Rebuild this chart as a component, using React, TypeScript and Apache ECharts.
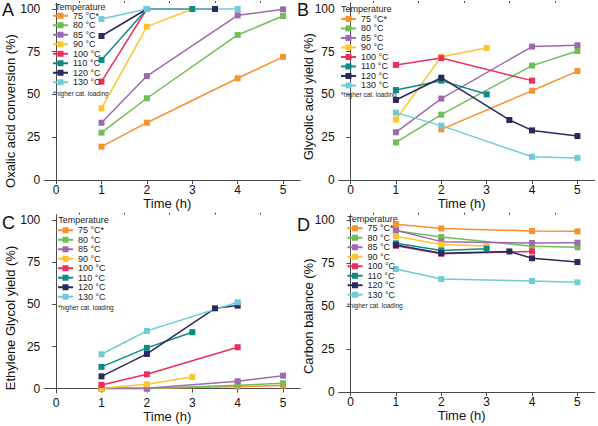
import React, { useEffect, useRef } from "react";
import * as echarts from "echarts";

const temps = ["75 °C*", "80 °C", "85 °C", "90 °C", "100 °C", "110 °C", "120 °C", "130 °C"];
const colors = ["#F7922F", "#6FBE57", "#9E6AAE", "#FCC52E", "#EC2E5C", "#0D8A84", "#29295E", "#72CAD9"];

const xTicks = [0, 1, 2, 3, 4, 5];
const xMinorTicks = [0.5, 1.5, 2.5, 3.5, 4.5];
const yTicks = [0, 25, 50, 75, 100];

type P = [number, number][];

// A: Oxalic acid conversion (%)
const oxalicConversion: P[] = [
  [[1, 19.5], [2, 33.5], [4, 59.5], [5, 72]],
  [[1, 27.7], [2, 47.8], [4, 84.8], [5, 95.9]],
  [[1, 33.5], [2, 60.8], [4, 96.3], [5, 99.8]],
  [[1, 41.9], [2, 89.7], [3, 100]],
  [[1, 57.5], [2, 100]],
  [[1, 70.2], [2, 100], [3, 100]],
  [[1, 84.2], [2, 100], [3.5, 100]],
  [[1, 94.2], [2, 100], [4, 100]],
];

// B: Glycolic acid yield (%)
const glycolicYield: P[] = [
  [[2, 29.6], [4, 52.2], [5, 63.7]],
  [[1, 22], [2, 38.2], [4, 66.9], [5, 75.4]],
  [[1, 27.9], [2, 47.6], [4, 78], [5, 78.8]],
  [[1, 35.3], [2, 72.1], [3, 77.2]],
  [[1, 67.3], [2, 71.3], [4, 58.1]],
  [[1, 52.6], [2, 58.1], [3, 50.1]],
  [[1, 46.8], [2, 59.8], [3.5, 35.1], [4, 29], [5, 25.7]],
  [[1, 39.4], [2, 31.8], [4, 13.6], [5, 12.9]],
];

// C: Ethylene Glycol yield (%)
const egYield: P[] = [
  [[1, 0], [2, 0], [4, 1.2], [5, 1.8]],
  [[1, 0], [2, 0], [4, 2], [5, 3.2]],
  [[1, 0.4], [2, 0.2], [4, 4.4], [5, 7.7]],
  [[1, 0.2], [2, 2.6], [3, 6.9]],
  [[1, 2.2], [2, 8.5], [4, 24.6]],
  [[1, 12.9], [2, 24.2], [3, 33.5]],
  [[1, 7.3], [2, 20.6], [3.5, 47.7], [4, 49.3]],
  [[1, 20.4], [2, 34.3], [4, 51.3]],
];

// D: Carbon balance (%)
const carbonBalance: P[] = [
  [[1, 97.7], [2, 95.3], [4, 93.8], [5, 93.6]],
  [[1, 94], [2, 90.3], [4, 84.9], [5, 84.3]],
  [[1, 94.2], [2, 87.6], [4, 86.8], [5, 87]],
  [[1, 90.7], [2, 86], [3, 85.1]],
  [[1, 85.2], [2, 80.6], [4, 81.9]],
  [[1, 86.6], [2, 82.5], [3, 83.5]],
  [[1, 85.6], [2, 80.8], [3.5, 81.9], [4, 77.9], [5, 75.7]],
  [[1, 71.7], [2, 65.8], [4, 64.7], [5, 63.9]],
];

const panels = [
  { letter: "A", title: "Oxalic acid conversion (%)", data: oxalicConversion },
  { letter: "B", title: "Glycolic acid yield (%)", data: glycolicYield },
  { letter: "C", title: "Ethylene Glycol yield (%)", data: egYield },
  { letter: "D", title: "Carbon balance (%)", data: carbonBalance },
];

const FONT = "'Liberation Sans', Arial, Helvetica, sans-serif";

// layout (pixels)
const layout = [
  { left: 44.3, top: 3, width: 256, height: 177, yMin: 0, yMax: 103.5,
    letter: [2, 1], yName: [10.7, 111], legendLeft: 52, legendTop: 11, tempTitle: [55, 6.7], note: [53, 93.3] },
  { left: 338.7, top: 3, width: 256, height: 177, yMin: 0, yMax: 103.5,
    letter: [297, 1], yName: [308.7, 96.7], legendLeft: 340, legendTop: 14.2, tempTitle: [341, 9], note: [341, 94.3] },
  { left: 44.3, top: 214.7, width: 256, height: 178.3, yMin: -2.6, yMax: 103.3,
    letter: [2, 214], yName: [10.7, 318], legendLeft: 57, legendTop: 225.5, tempTitle: [58.3, 220.3], note: [58, 307] },
  { left: 338.7, top: 214.7, width: 256, height: 177.3, yMin: 0, yMax: 103.3,
    letter: [297, 216], yName: [308.7, 316.3], legendLeft: 346.5, legendTop: 223.5, tempTitle: [347.3, 218.7], note: [347, 305] },
];

export default function App() {
  const ref = useRef<HTMLDivElement>(null);
  useEffect(() => {
    if (!ref.current) return;
    const chart = echarts.init(ref.current, null, { renderer: "svg" });

    const grid = layout.map((l) => ({ left: l.left, top: l.top, width: l.width, height: l.height, containLabel: false }));
    const axisLineColor = "#4a4a4a";

    const xAxis: any[] = [];
    const yAxis: any[] = [];
    layout.forEach((l, i) => {
      xAxis.push({
        type: "value", gridIndex: i, min: -0.26, max: 5.38,
        axisLine: { show: true, lineStyle: { color: axisLineColor, width: 1 } },
        axisTick: { show: true, length: 4, customValues: xTicks, lineStyle: { color: axisLineColor } },
        axisLabel: { customValues: xTicks, fontSize: 12, lineHeight: 12, color: "#111", margin: 4, fontFamily: FONT },
        splitLine: { show: false },
      });
      yAxis.push({
        type: "value", gridIndex: i, min: l.yMin, max: l.yMax,
        axisLine: { show: true, lineStyle: { color: axisLineColor, width: 1 } },
        axisTick: { show: true, length: 4, customValues: yTicks, lineStyle: { color: axisLineColor } },
        axisLabel: { customValues: yTicks, fontSize: 12, color: "#111", margin: 4, fontFamily: FONT },
        splitLine: { show: false },
      });
    });
    layout.forEach((l, i) => {
      xAxis.push({
        type: "value", gridIndex: i, min: -0.26, max: 5.38,
        axisLine: { show: false },
        axisTick: { show: true, length: 2, customValues: xMinorTicks, lineStyle: { color: axisLineColor } },
        axisLabel: { show: false },
        splitLine: { show: false },
      });
    });

    const series: any[] = [];
    panels.forEach((p, i) => {
      p.data.forEach((d, t) => {
        series.push({
          type: "line", name: temps[t], xAxisIndex: i, yAxisIndex: i, data: d,
          symbol: "rect", symbolSize: 6,
          lineStyle: { color: colors[t], width: 1.5 },
          itemStyle: { color: colors[t] },
          emphasis: { disabled: true },
        });
      });
    });

    const legend = layout.map((l) => ({
      data: temps, orient: "vertical", left: l.legendLeft, top: l.legendTop,
      itemWidth: 15, itemHeight: 7.5, itemGap: 0, padding: 0, selectedMode: false,
      textStyle: { fontSize: 9, lineHeight: 9.5, color: "#222", fontFamily: FONT },
    }));

    const graphic: any[] = [];
    layout.forEach((l, i) => {
      graphic.push({ type: "text", x: l.letter[0], y: l.letter[1],
        style: { text: panels[i].letter, fontSize: 18, fill: "#111", fontFamily: FONT, textVerticalAlign: "top" } });
      graphic.push({ type: "text", x: l.yName[0], y: l.yName[1], rotation: Math.PI / 2,
        style: { text: panels[i].title, fontSize: 13, fill: "#111", fontFamily: FONT, textAlign: "center", textVerticalAlign: "middle" } });
      graphic.push({ type: "text", x: l.left + 123, y: l.top + l.height + 16.5,
        style: { text: "Time (h)", fontSize: 13, lineHeight: 13, fill: "#111", fontFamily: FONT, textAlign: "center", textVerticalAlign: "top" } });
      graphic.push({ type: "text", x: l.tempTitle[0], y: l.tempTitle[1],
        style: { text: "Temperature", fontSize: 9, fill: "#222", fontFamily: FONT, textVerticalAlign: "middle" } });
      graphic.push({ type: "text", x: l.note[0], y: l.note[1],
        style: { text: "*higher cat. loading", fontSize: 6.5, fill: "#222", fontFamily: FONT, textVerticalAlign: "middle" } });
    });

    chart.setOption({
      animation: false,
      backgroundColor: "#fff",
      textStyle: { fontFamily: FONT },
      grid, xAxis, yAxis, series, legend, graphic,
    });
    return () => chart.dispose();
  }, []);
  return <div ref={ref} style={{ position: "absolute", left: 0, top: 0, width: 598, height: 426 }} />;
}
